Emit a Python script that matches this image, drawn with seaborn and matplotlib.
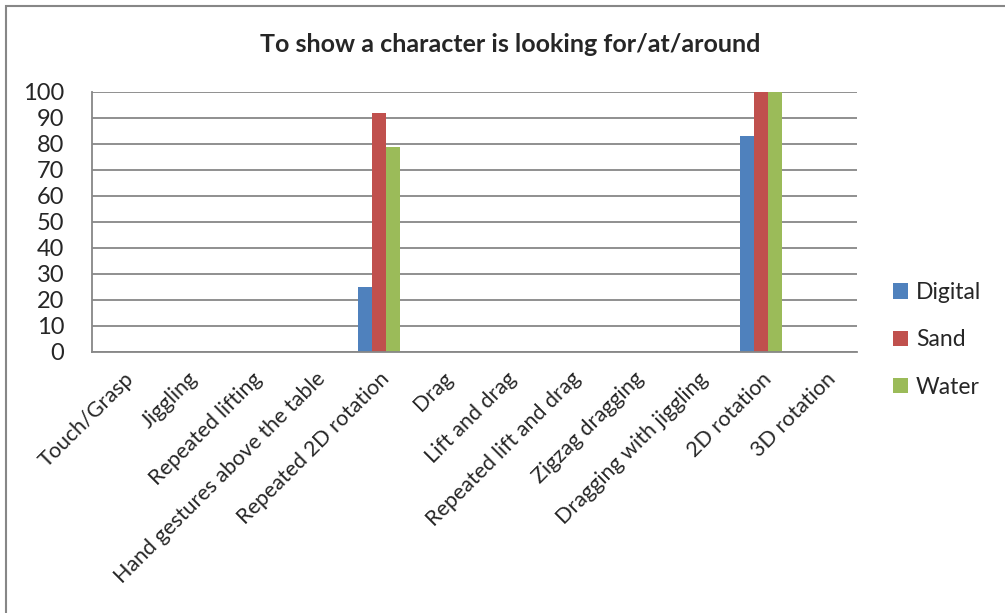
import matplotlib
matplotlib.use("Agg")
import matplotlib.pyplot as plt
import seaborn as sns
import pandas as pd
from matplotlib.patches import Rectangle

categories = ["Touch/Grasp", "Jiggling", "Repeated lifting", "Hand gestures above the table",
              "Repeated 2D rotation", "Drag", "Lift and drag", "Repeated lift and drag",
              "Zigzag dragging", "Dragging with jiggling", "2D rotation", "3D rotation"]
digital = [0, 0, 0, 0, 25, 0, 0, 0, 0, 0, 83, 0]
sand = [0, 0, 0, 0, 92, 0, 0, 0, 0, 0, 100, 0]
water = [0, 0, 0, 0, 79, 0, 0, 0, 0, 0, 100, 0]
series = ["Digital", "Sand", "Water"]
colors = ["#4F81BD", "#C0504D", "#9BBB59"]
yticks = list(range(0, 101, 10))
title = "To show a character is looking for/at/around"

df = pd.DataFrame({
    "category": categories * 3,
    "value": digital + sand + water,
    "series": [s for s in series for _ in categories],
})

sns.set_theme(style="white")
plt.rcParams["font.family"] = ["Lato", "DejaVu Sans"]

fig = plt.figure(figsize=(10.05, 6.13), dpi=100)
ax = fig.add_axes([92/1005, 1 - 352/613, (857-92)/1005, (352-92)/613])

sns.barplot(data=df, x="category", y="value", hue="series", palette=colors,
            order=categories, hue_order=series, width=0.66, saturation=1,
            ax=ax, legend=True, linewidth=0)

ax.set_ylim(0, 100)
ax.set_xlim(-0.5, len(categories) - 0.5)
ax.set_yticks(yticks)
ax.set_yticklabels([str(t) for t in yticks], fontsize=17)
ax.yaxis.grid(True, color="#878787", linewidth=1.3)
ax.set_axisbelow(True)
ax.set_xlabel("")
ax.set_ylabel("")
ax.tick_params(axis="both", length=0)
ax.tick_params(axis="y", pad=20)
ax.set_xticks(range(len(categories)))
ax.set_xticklabels(categories, rotation=45, ha="right", rotation_mode="anchor",
                   fontsize=15.5)
ax.tick_params(axis="x", pad=12)
for s in ["top", "right"]:
    ax.spines[s].set_visible(False)
for s in ["left", "bottom"]:
    ax.spines[s].set_color("#878787")
    ax.spines[s].set_linewidth(1.3)

ax.legend(loc="center left", bbox_to_anchor=(893/1005, 1 - 340/613),
          bbox_transform=fig.transFigure, frameon=False,
          fontsize=16.5, handlelength=0.65, handleheight=0.65, labelspacing=1.15,
          handletextpad=0.35, borderaxespad=0, borderpad=0)

fig.text(510/1005, 1 - 44/613, title, ha="center", va="center",
         fontsize=18, fontweight="bold")

fig.add_artist(Rectangle((6/1005, -0.1), 1.2, 1 - 6/613 + 0.1, transform=fig.transFigure,
                         fill=False, edgecolor="#878787", linewidth=1.5))

fig.savefig("out.png", dpi=100)
